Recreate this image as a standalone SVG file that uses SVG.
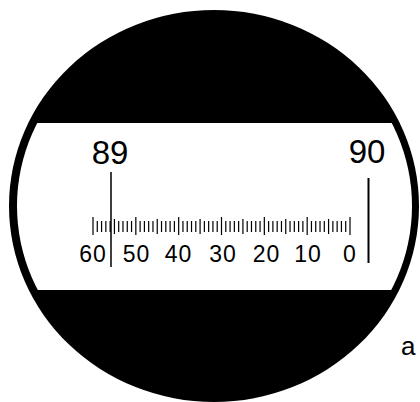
<svg xmlns="http://www.w3.org/2000/svg" width="420" height="402" viewBox="0 0 420 402">
<style>
.num{font-family:"Liberation Sans",Arial,sans-serif;fill:#000;text-anchor:middle}
.big{font-size:33px}
.sc{font-size:23px;letter-spacing:1px}
.tick{stroke:#000;stroke-width:1.2;fill:none}
.idx{stroke:#000;fill:none}
</style>
<defs>
<clipPath id="inner"><ellipse cx="214.5" cy="206" rx="197.5" ry="188"/></clipPath>
</defs>
<rect width="420" height="402" fill="#fff"/>
<g id="eyepiece">
<ellipse cx="214" cy="206" rx="205" ry="196" fill="#000"/>
<rect x="0" y="123" width="420" height="167" fill="#fff" clip-path="url(#inner)"/>
</g>
<g id="degree-89">
<text class="num big" x="110" y="164">89</text>
<line class="idx" x1="111" y1="172" x2="111" y2="267" stroke-width="1.5"/>
</g>
<g id="degree-90">
<text class="num big" x="367" y="163">90</text>
<line class="idx" x1="368.5" y1="178" x2="368.5" y2="263" stroke-width="2"/>
</g>
<g id="scale">
<path class="tick" d="M97.28 221V232M101.57 221V232M105.85 221V232M110.13 221V232M118.7 221V232M122.98 221V232M127.27 221V232M131.55 221V232M140.12 221V232M144.4 221V232M148.68 221V232M152.97 221V232M161.53 221V232M165.82 221V232M170.1 221V232M174.38 221V232M182.95 221V232M187.23 221V232M191.52 221V232M195.8 221V232M204.37 221V232M208.65 221V232M212.93 221V232M217.22 221V232M225.78 221V232M230.07 221V232M234.35 221V232M238.63 221V232M247.2 221V232M251.48 221V232M255.77 221V232M260.05 221V232M268.62 221V232M272.9 221V232M277.18 221V232M281.47 221V232M290.03 221V232M294.32 221V232M298.6 221V232M302.88 221V232M311.45 221V232M315.73 221V232M320.02 221V232M324.3 221V232M332.87 221V232M337.15 221V232M341.43 221V232M345.72 221V232"/>
<path class="tick" d="M114.42 219V234M157.25 219V234M200.08 219V234M242.92 219V234M285.75 219V234M328.58 219V234"/>
<path class="tick" stroke-width="1.4" d="M93 217V235M135.83 217V235M178.67 217V235M221.5 217V235M264.33 217V235M307.17 217V235M350 217V235"/>
<text class="num sc" x="93" y="262">60</text>
<text class="num sc" x="136.5" y="262">50</text>
<text class="num sc" x="178.5" y="262">40</text>
<text class="num sc" x="223" y="262">30</text>
<text class="num sc" x="266.5" y="262">20</text>
<text class="num sc" x="308" y="262">10</text>
<text class="num sc" x="350" y="262">0</text>
</g>
<g id="label-a">
<text x="401" y="355" font-family="'Liberation Sans',Arial,sans-serif" font-size="26" fill="#000">a</text>
</g>
</svg>
